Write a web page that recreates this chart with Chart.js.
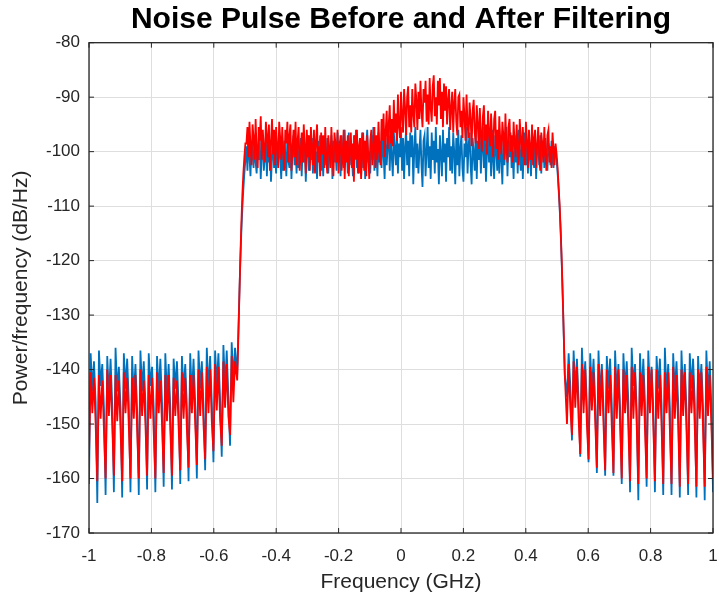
<!DOCTYPE html>
<html>
<head>
<meta charset="utf-8">
<title>Noise Pulse Before and After Filtering</title>
<script src="https://cdn.jsdelivr.net/npm/chart.js@4.4.1/dist/chart.umd.min.js"></script>
<style>
  html, body { margin: 0; padding: 0; background: #fff; }
  #plot { display: block; }
</style>
</head>
<body>
<canvas id="plot" width="719" height="601"></canvas>
<script>
// frequency spans (GHz) of the three sampled segments: lower stopband, passband + edges, upper stopband
const combLeftSpan = [-1, -0.532];
const bandSpan = [-0.525, 0.525];
const combRightSpan = [0.532, 1];

// power spectral density (dB/Hz) before filtering
const blueCombLeft = [
  -161, -137, -144, -138.5, -146,
  -164.5, -136.5, -143, -139, -147,
  -163, -137.5, -145, -138, -146.5,
  -162.5, -136, -144, -139.5, -147,
  -163.5, -137, -143.5, -138, -146,
  -162.5, -137.5, -145, -139, -147.5,
  -163, -136.5, -144, -138.5, -146,
  -162, -137, -143, -139.5, -147,
  -162.5, -137.5, -144.5, -138, -146,
  -161.5, -137, -145, -139, -147,
  -162, -138, -143.5, -138.5, -146.5,
  -161, -137.5, -144, -139, -147,
  -160.5, -137, -145, -138, -146,
  -160, -136.5, -143.5, -138.5, -146.5,
  -158.5, -136, -144, -137.5, -146,
  -157, -136.5, -143, -137, -145.5,
  -156, -135.5, -143.5, -136.5, -145,
  -154, -135, -142, -136
];
const blueBand = [
  -141, -134, -127, -120.5, -115, -110.5, -107, -104, -101.5,
  -99, -103.5, -97.5, -101, -104.5, -98, -100.5, -103, -97, -102,
  -104, -99, -101.5, -97.5, -105, -100, -98.5, -103.5, -101, -97,
  -104.5, -99.5, -102, -98, -105.5, -101, -97.5, -103, -100, -104,
  -98.5, -102.5, -97, -101, -105, -99, -103.5, -98, -100.5, -104.5,
  -97.5, -101.5, -103, -98.5, -105, -100, -97, -102.5, -99.5, -104,
  -98, -103, -100.5, -97.5, -104.5, -99, -102, -98.5, -105.5, -100,
  -97, -103.5, -99.5, -101.5, -97.5, -104, -98.5, -102.5, -100, -105,
  -98, -101, -97, -103.5, -99, -104.5, -98.5, -100.5, -102.5, -97.5,
  -104, -99.5, -101, -97, -105, -98, -102, -99.5, -103.5, -96.5,
  -102, -98, -104.5, -97, -100.5, -103, -96, -101.5, -99, -104,
  -96.5, -102.5, -98.5, -100, -104.5, -97, -101, -96, -103, -99.5,
  -104, -97.5, -101.5, -96.5, -103, -98, -105, -99, -96, -102,
  -100, -104, -97, -101.5, -95.5, -103.5, -98.5, -100.5, -104.5, -96.5,
  -102, -98, -103, -96, -100.5, -105, -97.5, -102.5, -99, -95.5,
  -103.5, -97, -101, -104.5, -96.5, -99.5, -102.5, -96, -104, -98.5,
  -101, -95.5, -103.5, -97.5, -105, -99, -96, -102.5, -98, -104.5,
  -96.5, -101, -97, -106, -99.5, -95.5, -103, -98.5, -104, -100,
  -96, -102.5, -106.5, -98, -97, -104.5, -100, -95.5, -103, -99,
  -105, -96.5, -101.5, -98, -104, -95.5, -102, -99.5, -106, -97,
  -100.5, -104.5, -96, -102, -98.5, -105.5, -97.5, -101, -95.5, -103.5,
  -99, -104, -96.5, -100, -106, -97.5, -102.5, -96, -104.5, -99.5,
  -97, -103, -105.5, -98.5, -101, -95.5, -104, -99, -96.5, -102.5,
  -106, -97.5, -100.5, -103.5, -96, -105, -98, -101.5, -96.5, -104,
  -99.5, -95.5, -103, -97.5, -105.5, -100, -96.5, -102, -98.5, -104.5,
  -96, -101.5, -105, -97, -99.5, -103.5, -96.5, -104, -98, -101,
  -106, -97, -102.5, -99, -95.5, -104.5, -98, -101, -96.5, -103,
  -100, -105, -97, -102, -98.5, -104, -96, -100.5, -103.5, -97.5,
  -105, -99, -96.5, -102.5, -98, -104, -97, -101, -104.5, -97.5,
  -100, -103, -97.5, -105, -99, -98, -102.5, -97, -104, -99.5,
  -98, -103, -97.5, -101, -103.5, -98.5, -100, -102.5, -98, -101.5,
  -103, -99, -100.5,
  -101.5, -104, -107, -110.5, -115, -120.5, -127, -134, -141
];
const blueCombRight = [
  -145, -137, -143,
  -153, -136.5, -144, -138, -146,
  -156, -136, -143.5, -138.5, -147,
  -157, -137, -144, -138, -146,
  -159, -136.5, -145, -139, -147,
  -159.5, -137.5, -143.5, -138, -146.5,
  -159.5, -136.5, -144.5, -139, -147,
  -161, -137, -144, -138.5, -146,
  -162.5, -136, -143, -139, -147.5,
  -164, -137, -145, -138, -146,
  -161.5, -136.5, -144, -139.5, -147,
  -162.5, -137.5, -143.5, -138, -146.5,
  -163, -136, -144.5, -139, -147,
  -163, -137, -144, -138.5, -146,
  -163.5, -136.5, -145, -139, -147.5,
  -163, -137, -143.5, -138, -146,
  -163.5, -137.5, -144, -139, -147,
  -164, -136.5, -145, -138.5, -146.5,
  -162.5
];

// power spectral density (dB/Hz) after filtering
const redCombLeft = [
  -156, -140.5, -148, -141.5, -150,
  -160.5, -141, -149, -142, -151,
  -160, -140, -148.5, -141, -150,
  -159.5, -141, -149.5, -142, -151,
  -160.5, -140.5, -148, -141.5, -150.5,
  -160, -141.5, -149, -141, -151,
  -160, -140, -148.5, -142, -150,
  -159.5, -141, -149, -141.5, -151.5,
  -160, -140.5, -148, -142, -150,
  -159, -141, -149.5, -141, -151,
  -159.5, -141.5, -148.5, -142, -150.5,
  -158.5, -140.5, -149, -141.5, -151,
  -158, -141, -148, -141, -150,
  -157.5, -140, -148.5, -140.5, -150,
  -156.5, -139.5, -148, -140, -149.5,
  -155, -139, -147.5, -139.5, -149,
  -154, -138.5, -147, -139, -148.5,
  -152, -137.5, -146, -138.5
];
const redBand = [
  -142, -135, -127.5, -120, -113.5, -108, -104, -101, -98.5,
  -98.5, -95.5, -101, -94.5, -99, -102.5, -95, -97.5, -101.5, -94,
  -100, -103, -95.5, -98, -93.5, -101.5, -96, -99.5, -102, -94.5,
  -97, -101, -95, -103.5, -98.5, -94, -100.5, -96, -102.5, -95.5,
  -99, -103, -94.5, -97.5, -101.5, -95.5, -100, -103.5, -96, -98.5,
  -94.5, -102, -97, -95, -103.5, -99.5, -96, -101, -94.5, -102.5,
  -98, -95.5, -103.5, -100, -96.5, -102, -95, -99, -104, -96,
  -101, -97, -103.5, -95.5, -99.5, -102.5, -96, -104, -98, -95,
  -102, -99, -104.5, -96.5, -100.5, -97, -103, -95.5, -101.5, -104,
  -97, -99.5, -103, -95.5, -101, -104.5, -96.5, -98.5, -102, -96,
  -104, -99, -97, -103.5, -100.5, -96, -105, -98, -102, -97,
  -104.5, -100, -96.5, -103, -98.5, -105.5, -97, -101.5, -96, -104,
  -99, -97.5, -105, -101, -96.5, -103.5, -98, -104.5, -97, -100.5,
  -105, -98, -96, -102.5, -99.5, -95.5, -103, -97, -101.5, -94.5,
  -100, -102.5, -94, -98, -93, -101, -96.5, -92.5, -99.5, -95,
  -91.5, -98.5, -94, -99, -90.5, -96.5, -93, -98, -89.5, -95.5,
  -97.5, -89, -93.5, -96.5, -88.5, -92, -97, -90, -88, -95.5,
  -91.5, -96.5, -88.5, -93, -95.5, -87.5, -90.5, -96, -89, -94,
  -87, -92.5, -95.5, -88.5, -91, -87, -94.5, -89.5, -95, -86.5,
  -92, -94.5, -88, -86, -93.5, -90, -95, -87, -91.5, -86.5,
  -94, -89, -95.5, -87.5, -92.5, -88, -95, -90.5, -88.5, -96,
  -92, -89, -96.5, -91, -88.5, -94.5, -97, -90, -89.5, -95.5,
  -92.5, -97.5, -90, -93.5, -98, -89.5, -95, -97.5, -91, -94,
  -99, -92.5, -90.5, -96.5, -98.5, -91.5, -95, -99.5, -92, -97,
  -100, -93.5, -91.5, -98, -95, -100.5, -92.5, -96.5, -99, -93,
  -97.5, -101, -94, -92.5, -99.5, -96, -101.5, -93.5, -98, -100.5,
  -94.5, -97, -101.5, -93, -99, -102, -95.5, -94, -100, -97,
  -102, -94.5, -98.5, -101, -95, -99.5, -102.5, -94, -97.5, -101,
  -95.5, -100, -102.5, -94.5, -98, -103, -96, -99.5, -101.5, -95,
  -102.5, -97.5, -96, -103, -99, -95.5, -101, -103.5, -96.5, -98.5,
  -102, -95.5, -100.5, -103.5, -97, -96, -102, -99, -103, -96.5,
  -99.5, -102.5, -98.5,
  -100.5, -103, -106.5, -110, -114.5, -120, -126.5, -133.5, -141
];
const redCombRight = [
  -150, -139, -147,
  -152, -138.5, -147, -139.5, -149,
  -155.5, -139, -148, -140, -150,
  -156.5, -139.5, -147.5, -140.5, -149.5,
  -158, -139, -148.5, -140, -150,
  -158.5, -140, -148, -141, -150.5,
  -159, -139.5, -149, -140, -150,
  -160, -140, -148, -141, -151,
  -160.5, -139.5, -149, -140.5, -150,
  -161, -140.5, -148.5, -141, -151,
  -160, -139.5, -148, -140, -150,
  -160.5, -140, -149, -141, -150.5,
  -161, -140.5, -148, -140.5, -151,
  -161, -139.5, -149, -141, -150,
  -161.5, -140, -148.5, -140.5, -151,
  -161, -140.5, -148, -141, -150.5,
  -161.5, -140, -149, -140.5, -151,
  -161.5, -139.5, -148.5, -141, -150,
  -160
];

const xTickValues = [-1, -0.8, -0.6, -0.4, -0.2, 0, 0.2, 0.4, 0.6, 0.8, 1];
const yTickValues = [-170, -160, -150, -140, -130, -120, -110, -100, -90, -80];

const axisInk = '#262626';
const gridInk = '#dedede';
const fontFamily = "'Liberation Sans', Arial, Helvetica, sans-serif";

// evenly spaced frequency bins across a span
function spread(span, values) {
  const step = (span[1] - span[0]) / (values.length - 1);
  return values.map((v, i) => ({ x: span[0] + i * step, y: v }));
}

const blueData = [
  ...spread(combLeftSpan, blueCombLeft),
  ...spread(bandSpan, blueBand),
  ...spread(combRightSpan, blueCombRight)
];
const redData = [
  ...spread(combLeftSpan, redCombLeft),
  ...spread(bandSpan, redBand),
  ...spread(combRightSpan, redCombRight)
];

// MATLAB-style box with inward ticks on all four sides
const boxAxes = {
  id: 'boxAxes',
  afterDatasetsDraw(chart) {
    const { ctx, chartArea: a, scales: { x, y } } = chart;
    const len = 5;
    ctx.save();
    ctx.strokeStyle = axisInk;
    ctx.lineWidth = 1;
    ctx.beginPath();
    x.ticks.forEach(t => {
      const px = x.getPixelForValue(t.value);
      ctx.moveTo(px, a.bottom); ctx.lineTo(px, a.bottom - len);
      ctx.moveTo(px, a.top); ctx.lineTo(px, a.top + len);
    });
    y.ticks.forEach(t => {
      const py = y.getPixelForValue(t.value);
      ctx.moveTo(a.left, py); ctx.lineTo(a.left + len, py);
      ctx.moveTo(a.right, py); ctx.lineTo(a.right - len, py);
    });
    ctx.stroke();
    ctx.lineWidth = 1.3;
    ctx.strokeRect(a.left, a.top, a.right - a.left, a.bottom - a.top);
    ctx.restore();
  }
};

const fmt = v => String(parseFloat(Number(v).toFixed(1)));

new Chart(document.getElementById('plot'), {
  type: 'line',
  data: {
    datasets: [
      {
        label: 'After filtering',
        data: redData,
        borderColor: '#ff0000',
        borderWidth: 1.8,
        pointRadius: 0,
        tension: 0,
        order: 0
      },
      {
        label: 'Before filtering',
        data: blueData,
        borderColor: '#0072bd',
        borderWidth: 1.8,
        pointRadius: 0,
        tension: 0,
        order: 1
      }
    ]
  },
  options: {
    responsive: false,
    animation: false,
    parsing: false,
    normalized: true,
    layout: { padding: { left: 0, right: 6, top: 0, bottom: 0 } },
    plugins: {
      legend: { display: false },
      tooltip: { enabled: false },
      title: {
        display: true,
        fullSize: false,
        text: 'Noise Pulse Before and After Filtering',
        color: '#000',
        font: { family: fontFamily, size: 30, weight: 'bold', lineHeight: 1 },
        padding: { top: 5, bottom: 7.7 }
      }
    },
    scales: {
      x: {
        type: 'linear',
        min: -1,
        max: 1,
        afterBuildTicks: s => { s.ticks = xTickValues.map(v => ({ value: v })); },
        afterFit: s => { s.height = 68; s.paddingLeft = 0; s.paddingRight = 0; },
        ticks: {
          color: axisInk,
          font: { family: fontFamily, size: 17 },
          padding: 13,
          maxRotation: 0,
          autoSkip: false,
          callback: fmt
        },
        grid: { color: gridInk, drawTicks: false },
        border: { display: false },
        title: {
          display: true,
          text: 'Frequency (GHz)',
          color: axisInk,
          font: { family: fontFamily, size: 21 },
          padding: { top: 0, bottom: 6 }
        }
      },
      y: {
        type: 'linear',
        min: -170,
        max: -80,
        afterBuildTicks: s => { s.ticks = yTickValues.map(v => ({ value: v })); },
        afterFit: s => { s.width = 89; },
        ticks: {
          color: axisInk,
          font: { family: fontFamily, size: 17 },
          padding: 9,
          autoSkip: false,
          callback: fmt
        },
        grid: { color: gridInk, drawTicks: false },
        border: { display: false },
        title: {
          display: true,
          text: 'Power/frequency (dB/Hz)',
          color: axisInk,
          font: { family: fontFamily, size: 21 },
          padding: { top: 9, bottom: 0 }
        }
      }
    }
  },
  plugins: [boxAxes]
});
</script>
</body>
</html>
